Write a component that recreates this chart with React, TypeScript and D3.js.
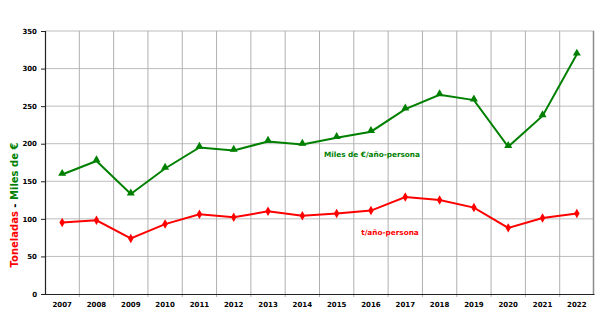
import * as d3 from 'd3';
import { useEffect, useRef } from 'react';

const years = [
  '2007', '2008', '2009', '2010', '2011', '2012', '2013', '2014',
  '2015', '2016', '2017', '2018', '2019', '2020', '2021', '2022',
];
const milesEuro = [159, 177, 133, 167, 195, 191, 203, 199, 208, 216, 246, 265, 258, 196, 237, 319];
const toneladas = [95, 98, 74, 93, 106, 102, 110, 104, 107, 111, 129, 125, 115, 88, 101, 107];
const yTicks = [0, 50, 100, 150, 200, 250, 300, 350];

const GREEN = '#008000';
const RED = '#ff0000';
const FONT = '"DejaVu Sans", sans-serif';

const App = () => {
  const svgRef = useRef<SVGSVGElement>(null);

  useEffect(() => {
    if (!svgRef.current) return;
    const svg = d3.select(svgRef.current);
    svg.selectAll('*').remove();

    const left = 45;
    const right = 594;
    const top = 31;
    const bottom = 294;

    const x = d3.scaleBand().domain(years).range([left, right]).padding(0);
    const y = d3.scaleLinear().domain([0, 350]).range([bottom, top]);
    const cx = (d: string) => (x(d) || 0) + x.bandwidth() / 2;

    // horizontal grid
    svg.append('g')
      .selectAll('line')
      .data(yTicks.slice(1))
      .join('line')
      .attr('x1', left)
      .attr('x2', right)
      .attr('y1', (d) => y(d))
      .attr('y2', (d) => y(d))
      .attr('stroke', '#bdbdbd')
      .attr('stroke-width', 1);

    // vertical grid at category boundaries
    svg.append('g')
      .selectAll('line')
      .data(years.slice(1))
      .join('line')
      .attr('x1', (d) => (x(d) || 0))
      .attr('x2', (d) => (x(d) || 0))
      .attr('y1', top)
      .attr('y2', bottom + 3)
      .attr('stroke', '#b0b0b0')
      .attr('stroke-width', 1);

    // right border
    svg.append('line')
      .attr('x1', right - 0.5).attr('x2', right - 0.5)
      .attr('y1', top).attr('y2', bottom)
      .attr('stroke', '#8c8c8c').attr('stroke-width', 1.5);

    // Y axis
    svg.append('g')
      .attr('transform', `translate(${left},0)`)
      .call(d3.axisLeft(y).tickValues(yTicks).tickSize(4).tickPadding(4))
      .call((a) => a.select('.domain').attr('stroke', '#222').attr('stroke-width', 1.2))
      .call((a) => a.selectAll('.tick line').attr('stroke', '#222'))
      .call((a) =>
        a.selectAll('.tick text')
          .attr('fill', '#000')
          .attr('font-size', '7px')
          .attr('font-weight', 'bold')
          .attr('font-family', FONT),
      );

    // X axis
    svg.append('g')
      .attr('transform', `translate(0,${bottom})`)
      .call(d3.axisBottom(x).tickSize(0).tickPadding(8))
      .call((a) => a.select('.domain').attr('stroke', '#222').attr('stroke-width', 1.2))
      .call((a) =>
        a.selectAll('.tick text')
          .attr('fill', '#000')
          .attr('font-size', '7px')
          .attr('font-weight', 'bold')
          .attr('font-family', FONT),
      );

    const line = d3.line<number>()
      .x((_, i) => cx(years[i]))
      .y((d) => y(d));

    // Miles de € series
    svg.append('path')
      .datum(milesEuro)
      .attr('d', line)
      .attr('fill', 'none')
      .attr('stroke', GREEN)
      .attr('stroke-width', 2);
    svg.append('g')
      .selectAll('path')
      .data(milesEuro)
      .join('path')
      .attr('d', d3.symbol().type(d3.symbolTriangle).size(28))
      .attr('transform', (d, i) => `translate(${cx(years[i])},${y(d) - 1})`)
      .attr('fill', GREEN);

    // Toneladas series
    svg.append('path')
      .datum(toneladas)
      .attr('d', line)
      .attr('fill', 'none')
      .attr('stroke', RED)
      .attr('stroke-width', 2);
    svg.append('g')
      .selectAll('path')
      .data(toneladas)
      .join('path')
      .attr('d', d3.symbol().type(d3.symbolDiamond).size(26))
      .attr('transform', (d, i) => `translate(${cx(years[i])},${y(d)})`)
      .attr('fill', RED);

    // series labels
    svg.append('text')
      .attr('x', 372)
      .attr('y', 157)
      .attr('text-anchor', 'middle')
      .attr('fill', GREEN)
      .attr('font-size', '7.3px')
      .attr('font-weight', 'bold')
      .attr('font-family', FONT)
      .text('Miles de €/año-persona');
    svg.append('text')
      .attr('x', 390)
      .attr('y', 235)
      .attr('text-anchor', 'middle')
      .attr('fill', RED)
      .attr('font-size', '7.3px')
      .attr('font-weight', 'bold')
      .attr('font-family', FONT)
      .text('t/año-persona');

    // Y axis title
    const title = svg.append('text')
      .attr('transform', 'translate(18,205) rotate(-90)')
      .attr('text-anchor', 'middle')
      .attr('font-size', '10px')
      .attr('font-weight', 'bold')
      .attr('font-family', FONT);
    title.append('tspan').attr('fill', RED).text('Toneladas');
    title.append('tspan').attr('fill', '#000').text(' - ');
    title.append('tspan').attr('fill', GREEN).text('Miles de €');
  }, []);

  return (
    <svg
      ref={svgRef}
      width={596}
      height={322}
      style={{ position: 'absolute', left: 0, top: 0, background: '#fff' }}
    />
  );
};

export default App;
